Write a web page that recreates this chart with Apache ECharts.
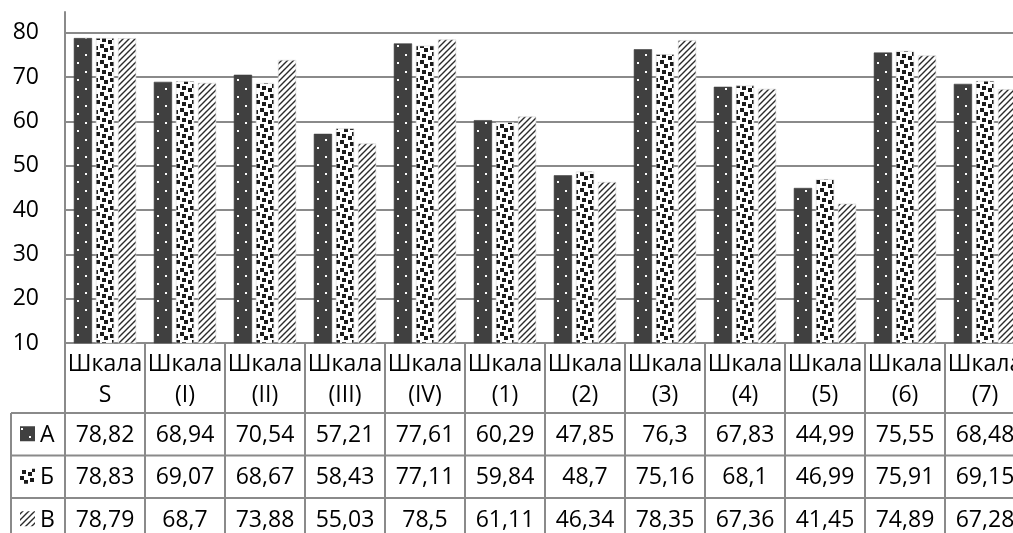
<!DOCTYPE html>
<html>
<head>
<meta charset="utf-8">
<script src="https://cdn.jsdelivr.net/npm/echarts@6/dist/echarts.min.js"></script>
<style>
  html, body { margin: 0; padding: 0; background: #ffffff; }
  #chart { width: 1013px; height: 533px; }
</style>
</head>
<body>
<div id="chart"></div>
<script>
// Scale names (category axis) and the three groups' scores
const categories = ['Шкала\nS', 'Шкала\n(I)', 'Шкала\n(II)', 'Шкала\n(III)', 'Шкала\n(IV)',
  'Шкала\n(1)', 'Шкала\n(2)', 'Шкала\n(3)', 'Шкала\n(4)', 'Шкала\n(5)', 'Шкала\n(6)', 'Шкала\n(7)'];
const seriesNames = ['А', 'Б', 'В'];
const valuesA = [78.82, 68.94, 70.54, 57.21, 77.61, 60.29, 47.85, 76.3, 67.83, 44.99, 75.55, 68.48];
const valuesB = [78.83, 69.07, 68.67, 58.43, 77.11, 59.84, 48.7, 75.16, 68.1, 46.99, 75.91, 69.15];
const valuesC = [78.79, 68.7, 73.88, 55.03, 78.5, 61.11, 46.34, 78.35, 67.36, 41.45, 74.89, 67.28];
const seriesValues = [valuesA, valuesB, valuesC];

const FONT = '"Open Sans", "Noto Sans", sans-serif';
const FONT_SIZE = 23;
const LINE = '#8a8a8a';

// Fill patterns for the three series
function tile(w, h, bg, draw) {
  const c = document.createElement('canvas');
  c.width = w; c.height = h;
  const g = c.getContext('2d');
  g.fillStyle = bg;
  g.fillRect(0, 0, w, h);
  draw(g);
  return c;
}
// dark fill with sparse white dots
const dotTile = tile(16, 17, '#404040', g => {
  g.fillStyle = '#ffffff';
  g.fillRect(5, 3, 2, 2);
  g.fillRect(13, 11, 2, 2);
});
// confetti of black squares on white
const confettiBits = [0x8d, 0x0c, 0xc0, 0xd8, 0x1b, 0x03, 0x30, 0xb1];
const confettiTile = tile(16, 16, '#ffffff', g => {
  g.fillStyle = '#1a1a1a';
  confettiBits.forEach((row, y) => {
    for (let x = 0; x < 8; x++) {
      if (row & (0x80 >> x)) g.fillRect(x * 2, y * 2, 2, 2);
    }
  });
});
// upward diagonal hatch
const hatchTile = tile(6, 6, '#ffffff', g => {
  g.strokeStyle = '#2a2a2a';
  g.lineWidth = 1.4;
  g.beginPath();
  g.moveTo(-1, 7); g.lineTo(7, -1);
  g.moveTo(-1, 1); g.lineTo(1, -1);
  g.moveTo(5, 7); g.lineTo(7, 5);
  g.stroke();
});
const fills = [dotTile, confettiTile, hatchTile].map(t => ({ image: t, repeat: 'repeat' }));

const chart = echarts.init(document.getElementById('chart'), null, { renderer: 'canvas' });

chart.setOption({
  animation: false,
  backgroundColor: '#ffffff',
  // twelve 80px-wide categories; the last one runs past the right edge
  grid: { left: 65, width: 960, top: 12, bottom: 190, containLabel: false, outerBoundsMode: 'none' },
  xAxis: {
    type: 'category',
    data: categories,
    axisLine: { show: true, lineStyle: { color: LINE, width: 2 } },
    axisTick: { show: true, alignWithLabel: false, interval: 0, length: 200, lineStyle: { color: LINE, width: 2 } },
    axisLabel: {
      interval: 0, margin: 6, color: '#000', fontFamily: FONT, fontSize: FONT_SIZE,
      lineHeight: 31, hideOverlap: false
    },
    splitLine: { show: false }
  },
  yAxis: {
    type: 'value',
    min: 10, max: 84.7, interval: 10,
    axisLine: { show: true, lineStyle: { color: LINE, width: 2 } },
    axisTick: { show: false },
    axisLabel: { color: '#000', fontFamily: FONT, fontSize: FONT_SIZE, margin: 26, showMaxLabel: false },
    splitLine: { show: true, showMaxLine: false, showMinLine: true, lineStyle: { color: LINE, width: 2 } }
  },
  series: seriesNames.map((name, i) => ({
    name,
    type: 'bar',
    data: seriesValues[i],
    barGap: '21%',
    barCategoryGap: '22%',
    itemStyle: { color: fills[i], borderColor: i === 0 ? '#404040' : '#d6d6d6', borderWidth: 0.6 }
  }))
});

// Data table under the plot, positioned from the category axis and value axis
function buildTable() {
  const axisY = chart.convertToPixel({ yAxisIndex: 0 }, 10);
  const headerBottom = axisY + 70;
  const rowH = 42.5;
  const keyLeft = 11;
  const width = chart.getWidth();
  const els = [];

  // horizontal rules
  for (let r = 0; r < 3; r++) {
    const y = headerBottom + r * rowH;
    els.push({ type: 'line', shape: { x1: keyLeft, y1: y, x2: width + 20, y2: y },
      style: { stroke: LINE, lineWidth: 2 }, silent: true });
  }
  // left edge of the key column
  els.push({ type: 'line', shape: { x1: keyLeft, y1: headerBottom, x2: keyLeft, y2: headerBottom + 3 * rowH + 10 },
    style: { stroke: LINE, lineWidth: 2 }, silent: true });

  seriesNames.forEach((name, r) => {
    const cy = headerBottom + r * rowH + rowH / 2;
    els.push({ type: 'rect', shape: { x: 20, y: cy - 8, width: 15, height: 15 },
      style: { fill: fills[r] }, silent: true });
    els.push({ type: 'text', x: 40, y: cy + 1,
      style: { text: name, fill: '#000', font: FONT_SIZE + 'px ' + FONT, textAlign: 'left', textVerticalAlign: 'middle' },
      silent: true });
    seriesValues[r].forEach((v, c) => {
      const cx = chart.convertToPixel({ xAxisIndex: 0 }, c);
      els.push({ type: 'text', x: cx, y: cy + 1,
        style: { text: String(v).replace('.', ','), fill: '#000', font: FONT_SIZE + 'px ' + FONT,
          textAlign: 'center', textVerticalAlign: 'middle' },
        silent: true });
    });
  });
  chart.setOption({ graphic: els });
}
buildTable();
</script>
</body>
</html>
